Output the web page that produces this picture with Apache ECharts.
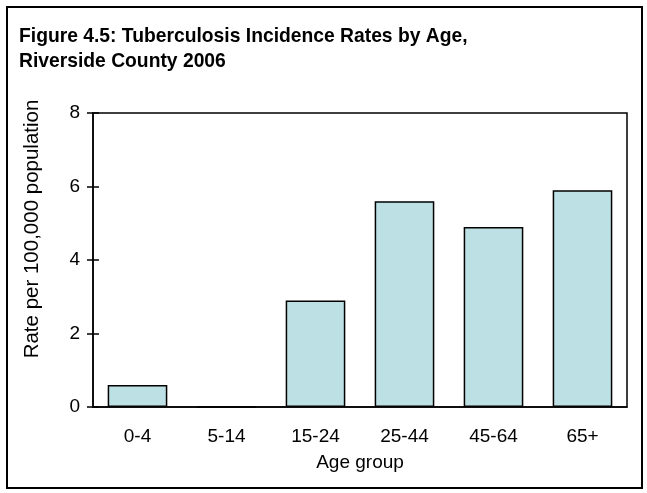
<!DOCTYPE html>
<html>
<head>
<meta charset="utf-8">
<script src="https://cdn.jsdelivr.net/npm/echarts@6/dist/echarts.min.js"></script>
<style>
  html, body { margin: 0; padding: 0; background: #fff; }
  #frame { position: absolute; left: 6px; top: 6px; width: 633px; height: 479px; border: 2px solid #000; }
  #main { position: absolute; left: 0; top: 0; width: 647px; height: 493px; }
</style>
</head>
<body>
<div id="frame"></div>
<div id="main"></div>
<script>
var ageGroups = ['0-4', '5-14', '15-24', '25-44', '45-64', '65+'];
var rates = [0.6, 0, 2.9, 5.6, 4.9, 5.9];
var yTicks = { min: 0, max: 8, interval: 2 };

var font = 'Liberation Sans, Arial, sans-serif';
var chart = echarts.init(document.getElementById('main'));

chart.setOption({
    animation: false,
    title: {
        text: 'Figure 4.5: Tuberculosis Incidence Rates by Age,\nRiverside County 2006',
        left: 14,
        top: 19,
        textStyle: { fontFamily: font, fontWeight: 'bold', fontSize: 19.3, color: '#000', lineHeight: 25 }
    },
    grid: {
        left: 93, right: 20, top: 113, bottom: 86,
        show: true, borderColor: '#000', borderWidth: 1.5, backgroundColor: 'transparent'
    },
    xAxis: [
        {
            type: 'category',
            data: ageGroups,
            name: 'Age group',
            nameLocation: 'middle',
            nameGap: 46,
            nameTextStyle: { fontFamily: font, fontSize: 19, color: '#000' },
            axisLine: { lineStyle: { color: '#000', width: 1.5 } },
            axisTick: { length: 6, lineStyle: { color: '#000', width: 1.5 } },
            axisLabel: { fontFamily: font, fontSize: 19, color: '#000', margin: 20 }
        },
        {
            type: 'category',
            data: ageGroups,
            position: 'bottom',
            axisLine: { show: false },
            axisTick: { inside: true, length: 6, lineStyle: { color: '#000', width: 1.5 } },
            axisLabel: { show: false }
        }
    ],
    yAxis: [
        {
            type: 'value',
            min: yTicks.min, max: yTicks.max, interval: yTicks.interval,
            name: 'Rate per 100,000 population',
            nameLocation: 'middle',
            nameGap: 50,
            nameTextStyle: { fontFamily: font, fontSize: 20.5, color: '#000', padding: [0, 0, 0, 62] },
            splitLine: { show: false },
            axisLine: { show: true, lineStyle: { color: '#000', width: 1.5 } },
            axisTick: { show: true, length: 6, lineStyle: { color: '#000', width: 1.5 } },
            axisLabel: { fontFamily: font, fontSize: 19, color: '#000', margin: 13 }
        },
        {
            type: 'value',
            position: 'left',
            min: yTicks.min, max: yTicks.max, interval: yTicks.interval,
            splitLine: { show: false },
            axisLine: { show: false },
            axisTick: { show: true, inside: true, length: 6, lineStyle: { color: '#000', width: 1.5 } },
            axisLabel: { show: false }
        }
    ],
    series: [{
        type: 'bar',
        data: rates,
        barCategoryGap: '33%',
        itemStyle: { color: '#BCE0E3', borderColor: '#000', borderWidth: 1.5 }
    }]
});
</script>
</body>
</html>
